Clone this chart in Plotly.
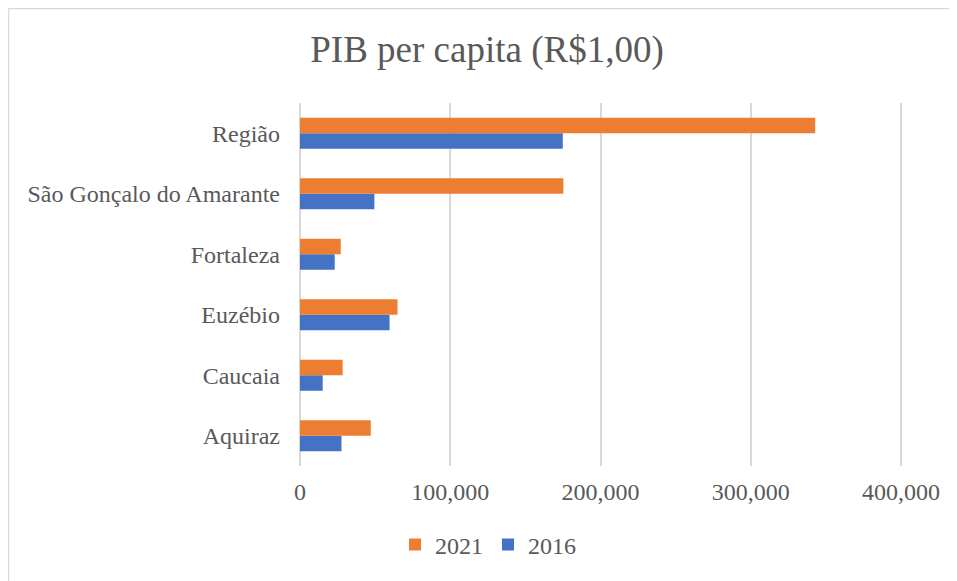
import plotly.graph_objects as go

categories = ["Aquiraz", "Caucaia", "Euzébio", "Fortaleza", "São Gonçalo do Amarante", "Região"]
values_2016 = [27600, 15100, 59600, 23100, 49500, 174900]
values_2021 = [47100, 28400, 64900, 27100, 175300, 342900]
x_ticks = [0, 100000, 200000, 300000, 400000]

FONT = "Liberation Serif, Times New Roman, serif"
GREY = "#595959"

fig = go.Figure()
fig.add_trace(go.Bar(y=categories, x=values_2016, name="2016", orientation="h",
                     marker=dict(color="#4472C4", line=dict(width=0))))
fig.add_trace(go.Bar(y=categories, x=values_2021, name="2021", orientation="h",
                     marker=dict(color="#ED7D31", line=dict(width=0))))

# page has an 8px body margin; work in figure coords = screen - 8
OFF = 8
FW, FH = 949, 573
PAD = 2  # px of padding so edge gridlines are drawn
SCALE = 400000 / 601  # data units per px
L, T, W, H = 300 - OFF - PAD, 103 - OFF, 601 + 2 * PAD, 363
def px(x):
    return (x - OFF - L) / W
def py(y):
    return 1 - (y - OFF - T) / H

border = dict(color="#d9d9d9", width=1.5)

fig.update_layout(
    width=FW, height=FH,
    margin=dict(l=L, r=FW - L - W, t=T, b=FH - T - H, autoexpand=False),
    paper_bgcolor="white", plot_bgcolor="white",
    barmode="group", bargap=0.487, bargroupgap=0,
    font=dict(family=FONT, color=GREY, size=24),
    title=dict(text="PIB per capita (R$1,00)", x=(487 - OFF) / FW, xanchor="center",
               y=1 - (49 - OFF) / FH, yanchor="middle",
               font=dict(family=FONT, size=37, color=GREY)),
    xaxis=dict(range=[-PAD * SCALE, 400000 + PAD * SCALE], tickvals=x_ticks, tickformat=",d",
               showgrid=True, gridcolor="#d9d9d9", gridwidth=1.5,
               zeroline=False, showline=False, ticks="", ticklabelstandoff=9,
               tickfont=dict(family=FONT, size=24, color=GREY)),
    yaxis=dict(showgrid=False, zeroline=False, showline=False, ticks="",
               ticklabelstandoff=17,
               tickfont=dict(family=FONT, size=24, color=GREY)),
    legend=dict(orientation="h", x=px(488), xanchor="center",
                y=py(545), yanchor="middle", traceorder="reversed",
                font=dict(family=FONT, size=24, color=GREY),
                itemwidth=30),
    showlegend=True,
    shapes=[
        dict(type="line", xref="paper", yref="paper",
             x0=px(8.5), x1=px(960), y0=py(8.5), y1=py(8.5), line=border, layer="below"),
        dict(type="line", xref="paper", yref="paper",
             x0=px(8.5), x1=px(8.5), y0=py(8.5), y1=py(600), line=border, layer="below"),
    ],
)

fig.write_html("out.html")
